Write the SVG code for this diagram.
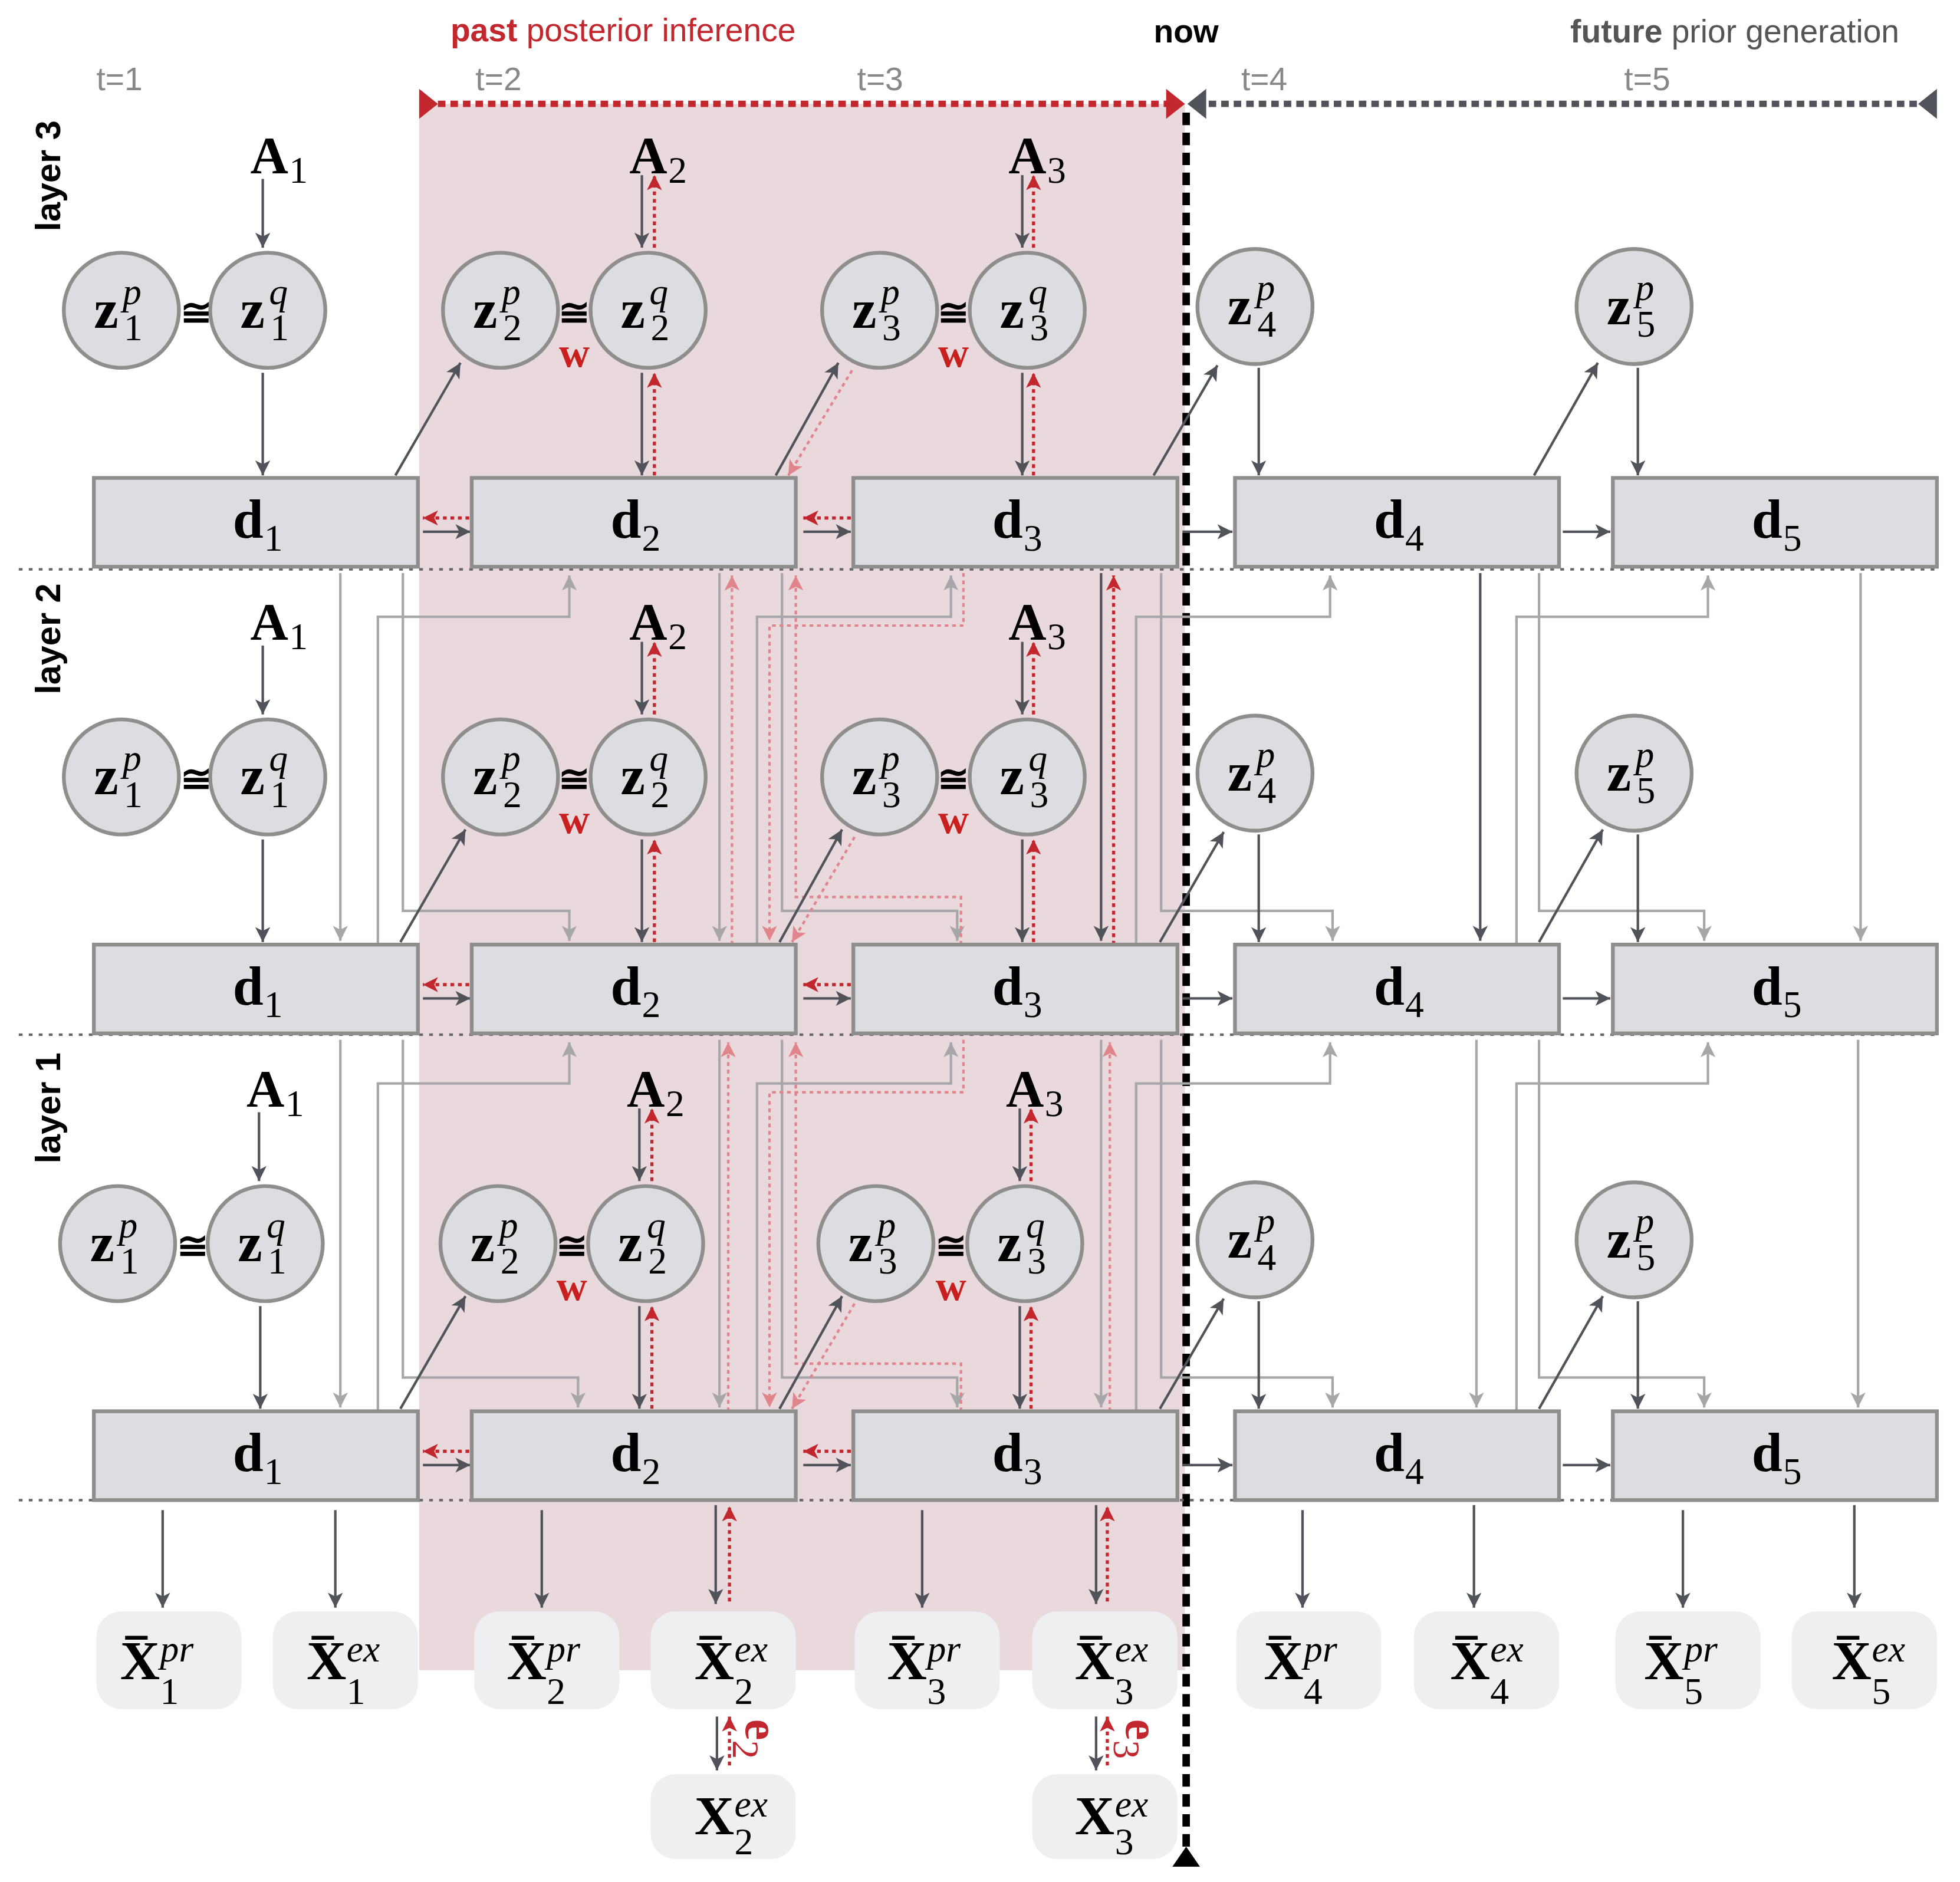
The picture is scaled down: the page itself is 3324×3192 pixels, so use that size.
<svg xmlns="http://www.w3.org/2000/svg" width="3324" height="3192" viewBox="0 0 3324 3192">
<style>
.zb{font:bold 44px 'Liberation Serif',serif}
.sup{font:italic 30px 'Liberation Serif',serif}
.sub{font:30px 'Liberation Serif',serif}
.cg{font:bold 30px 'Liberation Serif',serif;text-anchor:middle}
.w{font:bold 34px 'Liberation Serif',serif;fill:#c8201e;text-anchor:middle}
.A{font:bold 42px 'Liberation Serif',serif}
.circ{fill:#dcdde0;stroke:#8e8e8e;stroke-width:3}
.box{fill:#dcdde0;stroke:#8e8e8e;stroke-width:3}
.ob{fill:#eeeff1}
.dk{stroke:#50545a;stroke-width:2;fill:none;marker-end:url(#ad)}
.lt{stroke:#a7a7aa;stroke-width:2;fill:none;marker-end:url(#al)}
.rd{stroke:#c1272d;stroke-width:2.5;stroke-dasharray:3 3;fill:none;marker-end:url(#ar)}
.pk{stroke:#e0858c;stroke-width:2;stroke-dasharray:3 3;fill:none;marker-end:url(#ap)}
.sep{stroke:#666;stroke-width:2;stroke-dasharray:3 5}
.tl{font:26px 'Liberation Sans Narrow','Liberation Sans',sans-serif;fill:#888}
.lay{font:bold 28px 'Liberation Sans',sans-serif;fill:#000}
</style>
<defs>
<marker id="ad" markerUnits="userSpaceOnUse" markerWidth="12" markerHeight="14" refX="12" refY="6" orient="auto"><path d="M0,0L12,6L0,12L3,6z" fill="#50545a"/></marker>
<marker id="al" markerUnits="userSpaceOnUse" markerWidth="12" markerHeight="14" refX="12" refY="6" orient="auto"><path d="M0,0L12,6L0,12L3,6z" fill="#a7a7aa"/></marker>
<marker id="ar" markerUnits="userSpaceOnUse" markerWidth="12" markerHeight="14" refX="12" refY="6" orient="auto"><path d="M0,0L12,6L0,12L3,6z" fill="#c1272d"/></marker>
<marker id="ap" markerUnits="userSpaceOnUse" markerWidth="12" markerHeight="14" refX="12" refY="6" orient="auto"><path d="M0,0L12,6L0,12L3,6z" fill="#e0858c"/></marker>
</defs>
<rect width="3324" height="3192" fill="#fff"/>
<g transform="scale(2.122)">
<rect x="335" y="83" width="612" height="1252" fill="#ead9dc"/>
<g id="header">
<text x="360" y="33" style="font:26px 'Liberation Sans Narrow','Liberation Sans',sans-serif" fill="#c1272d"><tspan font-weight="bold">past</tspan> posterior inference</text>
<text x="922" y="34" style="font:bold 26px 'Liberation Sans Narrow','Liberation Sans',sans-serif" fill="#000">now</text>
<text x="1255" y="34" style="font:26px 'Liberation Sans Narrow','Liberation Sans',sans-serif" fill="#555"><tspan font-weight="bold">future</tspan> prior generation</text>
<text class="tl" x="77" y="72">t=1</text><text class="tl" x="380" y="72">t=2</text><text class="tl" x="685" y="72">t=3</text><text class="tl" x="992" y="72">t=4</text><text class="tl" x="1298" y="72">t=5</text>
<text class="lay" transform="translate(48,185) rotate(-90)">layer 3</text>
<text class="lay" transform="translate(48,555) rotate(-90)">layer 2</text>
<text class="lay" transform="translate(48,930) rotate(-90)">layer 1</text>
<line x1="340" y1="83" x2="938" y2="83" stroke="#c1272d" stroke-width="5" stroke-dasharray="6 4"/>
<polygon points="335,71 350,83 335,95" fill="#c1272d"/><polygon points="932,71 947,83 932,95" fill="#c1272d"/>
<line x1="956" y1="83" x2="1540" y2="83" stroke="#50545a" stroke-width="5" stroke-dasharray="6 4"/>
<polygon points="964,71 949,83 964,95" fill="#50545a"/><polygon points="1548,71 1533,83 1548,95" fill="#50545a"/>
<line x1="948" y1="90" x2="948" y2="1478" stroke="#000" stroke-width="6" stroke-dasharray="10 6"/>
<polygon points="937,1492 959,1492 948,1476" fill="#000"/>
<line class="sep" x1="15" y1="455" x2="1550" y2="455"/><line class="sep" x1="15" y1="827" x2="1550" y2="827"/><line class="sep" x1="15" y1="1199" x2="1550" y2="1199"/>
</g>
<g id="connectors">
<g>
<path class="lt" d="M272,458V752"/><path class="lt" d="M322,458V728H455V752"/><path class="lt" d="M302,755V493H455V460"/>
<path class="lt" d="M575,458V752"/><path class="lt" d="M605,755V493H760V460"/><path class="lt" d="M625,458V728H765V752"/>
<path class="lt" d="M908,755V493H1063V460"/><path class="lt" d="M928,458V728H1065V752"/>
<path class="lt" d="M1212,755V493H1365V460"/><path class="lt" d="M1230,458V728H1362V752"/><path class="lt" d="M1487,458V752"/>
<path class="dk" d="M880,458V752"/><path class="dk" d="M1183,458V752"/><path class="rd" d="M890,755V460"/>
<path class="pk" d="M585,755V460"/><path class="pk" d="M768,755V717H636V460"/><path class="pk" d="M770,458V500H615V752"/>
</g>
<g transform="translate(0,373)">
<path class="lt" d="M272,458V752"/><path class="lt" d="M322,458V728H462V752"/><path class="lt" d="M302,755V493H455V460"/>
<path class="lt" d="M575,458V752"/><path class="lt" d="M605,755V493H760V460"/><path class="lt" d="M625,458V728H765V752"/>
<path class="lt" d="M908,755V493H1063V460"/><path class="lt" d="M928,458V728H1065V752"/>
<path class="lt" d="M1212,755V493H1365V460"/><path class="lt" d="M1230,458V728H1362V752"/><path class="lt" d="M1485,458V752"/>
<path class="lt" d="M880,458V752"/><path class="lt" d="M1180,458V752"/><path class="pk" d="M887,755V460"/>
<path class="pk" d="M582,755V460"/><path class="pk" d="M768,755V717H636V460"/><path class="pk" d="M770,458V500H615V752"/>
</g>
<path class="dk" d="M130,1207V1285"/><path class="dk" d="M268,1207V1285"/><path class="dk" d="M433,1207V1285"/><path class="dk" d="M572,1203V1282"/><path class="dk" d="M737,1207V1285"/><path class="dk" d="M876,1203V1282"/><path class="dk" d="M1041,1207V1285"/><path class="dk" d="M1178,1203V1285"/><path class="dk" d="M1345,1207V1285"/><path class="dk" d="M1482,1203V1285"/>
<path class="rd" d="M583,1280V1204"/><path class="rd" d="M885,1280V1204"/>
<path class="dk" d="M573,1372V1415"/><path class="rd" d="M583,1411V1372"/>
<path class="dk" d="M876,1372V1415"/><path class="rd" d="M885,1411V1372"/>
<text transform="translate(596,1374) rotate(90)" style="font:bold 38px 'Liberation Serif',serif" fill="#c1272d">e<tspan style="font:30px 'Liberation Serif',serif" dy="10">2</tspan></text>
<text transform="translate(900,1374) rotate(90)" style="font:bold 38px 'Liberation Serif',serif" fill="#c1272d">e<tspan style="font:30px 'Liberation Serif',serif" dy="10">3</tspan></text>
</g>
<g id="layer3">
<g id="L3-edges">
<path class="dk" d="M210,143V198"/><path class="dk" d="M513,140V198"/><path class="rd" d="M523,198V140"/><path class="dk" d="M817,140V198"/><path class="rd" d="M826,198V140"/>
<path class="dk" d="M210,298V380"/><path class="dk" d="M513,298V380"/><path class="rd" d="M523,380V298"/><path class="dk" d="M817,298V380"/><path class="rd" d="M826,380V298"/><path class="dk" d="M1006,294V380"/><path class="dk" d="M1309,294V380"/>
<path class="dk" d="M316,380L368,290"/><path class="dk" d="M620,380L670,290"/><path class="pk" d="M681,296L630,380"/><path class="dk" d="M922,380L973,292"/><path class="dk" d="M1226,380L1277,290"/>
<path class="dk" d="M338,425H376"/><path class="rd" d="M375,414H338"/><path class="dk" d="M642,425H680"/><path class="rd" d="M680,414H642"/><path class="dk" d="M945,425H985"/><path class="dk" d="M1249,425H1287"/>
</g>
<g id="L3-A1"><text class="A" x="200" y="138">A</text><text class="sub" x="231" y="146">1</text></g>
<g id="L3-A2"><text class="A" x="503" y="138">A</text><text class="sub" x="534" y="146">2</text></g>
<g id="L3-A3"><text class="A" x="806" y="138">A</text><text class="sub" x="837" y="146">3</text></g>
<g id="L3-z1p"><circle class="circ" cx="97" cy="248" r="46"/><text class="zb" x="75" y="262">z</text><text class="sup" x="98" y="243">p</text><text class="sub" x="99" y="272">1</text></g>
<g id="L3-z1q"><circle class="circ" cx="214" cy="248" r="46"/><text class="zb" x="192" y="262">z</text><text class="sup" x="215" y="243">q</text><text class="sub" x="216" y="272">1</text></g>
<text class="cg" x="157" y="260">≅</text>
<g id="L3-z2p"><circle class="circ" cx="400" cy="248" r="46"/><text class="zb" x="378" y="262">z</text><text class="sup" x="401" y="243">p</text><text class="sub" x="402" y="272">2</text></g>
<g id="L3-z2q"><circle class="circ" cx="518" cy="248" r="46"/><text class="zb" x="496" y="262">z</text><text class="sup" x="519" y="243">q</text><text class="sub" x="520" y="272">2</text></g>
<text class="cg" x="459" y="260">≅</text><text class="w" x="459" y="293">w</text>
<g id="L3-z3p"><circle class="circ" cx="703" cy="248" r="46"/><text class="zb" x="681" y="262">z</text><text class="sup" x="704" y="243">p</text><text class="sub" x="705" y="272">3</text></g>
<g id="L3-z3q"><circle class="circ" cx="821" cy="248" r="46"/><text class="zb" x="799" y="262">z</text><text class="sup" x="822" y="243">q</text><text class="sub" x="823" y="272">3</text></g>
<text class="cg" x="762" y="260">≅</text><text class="w" x="762" y="293">w</text>
<g id="L3-z4p"><circle class="circ" cx="1003" cy="245" r="46"/><text class="zb" x="981" y="259">z</text><text class="sup" x="1004" y="240">p</text><text class="sub" x="1005" y="269">4</text></g>
<g id="L3-z5p"><circle class="circ" cx="1306" cy="245" r="46"/><text class="zb" x="1284" y="259">z</text><text class="sup" x="1307" y="240">p</text><text class="sub" x="1308" y="269">5</text></g>
<g id="L3-d1"><rect class="box" x="75" y="382" width="259" height="71"/><text class="zb" x="186" y="430">d</text><text class="sub" x="211" y="440">1</text></g>
<g id="L3-d2"><rect class="box" x="377" y="382" width="259" height="71"/><text class="zb" x="488" y="430">d</text><text class="sub" x="513" y="440">2</text></g>
<g id="L3-d3"><rect class="box" x="682" y="382" width="259" height="71"/><text class="zb" x="793" y="430">d</text><text class="sub" x="818" y="440">3</text></g>
<g id="L3-d4"><rect class="box" x="987" y="382" width="259" height="71"/><text class="zb" x="1098" y="430">d</text><text class="sub" x="1123" y="440">4</text></g>
<g id="L3-d5"><rect class="box" x="1289" y="382" width="259" height="71"/><text class="zb" x="1400" y="430">d</text><text class="sub" x="1425" y="440">5</text></g>
</g>
<g id="layer2" transform="translate(0,373)">
<g id="L2-edges">
<path class="dk" d="M210,143V198"/><path class="dk" d="M513,140V198"/><path class="rd" d="M523,198V140"/><path class="dk" d="M817,140V198"/><path class="rd" d="M826,198V140"/>
<path class="dk" d="M210,298V380"/><path class="dk" d="M513,298V380"/><path class="rd" d="M523,380V298"/><path class="dk" d="M817,298V380"/><path class="rd" d="M826,380V298"/><path class="dk" d="M1006,294V380"/><path class="dk" d="M1309,294V380"/>
<path class="dk" d="M320,380L372,290"/><path class="dk" d="M623,380L673,290"/><path class="pk" d="M683,296L633,380"/><path class="dk" d="M927,380L978,292"/><path class="dk" d="M1230,380L1281,290"/>
<path class="dk" d="M338,425H376"/><path class="rd" d="M375,414H338"/><path class="dk" d="M642,425H680"/><path class="rd" d="M680,414H642"/><path class="dk" d="M945,425H985"/><path class="dk" d="M1249,425H1287"/>
</g>
<g id="L2-A1"><text class="A" x="200" y="138">A</text><text class="sub" x="231" y="146">1</text></g>
<g id="L2-A2"><text class="A" x="503" y="138">A</text><text class="sub" x="534" y="146">2</text></g>
<g id="L2-A3"><text class="A" x="806" y="138">A</text><text class="sub" x="837" y="146">3</text></g>
<g id="L2-z1p"><circle class="circ" cx="97" cy="248" r="46"/><text class="zb" x="75" y="262">z</text><text class="sup" x="98" y="243">p</text><text class="sub" x="99" y="272">1</text></g>
<g id="L2-z1q"><circle class="circ" cx="214" cy="248" r="46"/><text class="zb" x="192" y="262">z</text><text class="sup" x="215" y="243">q</text><text class="sub" x="216" y="272">1</text></g>
<text class="cg" x="157" y="260">≅</text>
<g id="L2-z2p"><circle class="circ" cx="400" cy="248" r="46"/><text class="zb" x="378" y="262">z</text><text class="sup" x="401" y="243">p</text><text class="sub" x="402" y="272">2</text></g>
<g id="L2-z2q"><circle class="circ" cx="518" cy="248" r="46"/><text class="zb" x="496" y="262">z</text><text class="sup" x="519" y="243">q</text><text class="sub" x="520" y="272">2</text></g>
<text class="cg" x="459" y="260">≅</text><text class="w" x="459" y="293">w</text>
<g id="L2-z3p"><circle class="circ" cx="703" cy="248" r="46"/><text class="zb" x="681" y="262">z</text><text class="sup" x="704" y="243">p</text><text class="sub" x="705" y="272">3</text></g>
<g id="L2-z3q"><circle class="circ" cx="821" cy="248" r="46"/><text class="zb" x="799" y="262">z</text><text class="sup" x="822" y="243">q</text><text class="sub" x="823" y="272">3</text></g>
<text class="cg" x="762" y="260">≅</text><text class="w" x="762" y="293">w</text>
<g id="L2-z4p"><circle class="circ" cx="1003" cy="245" r="46"/><text class="zb" x="981" y="259">z</text><text class="sup" x="1004" y="240">p</text><text class="sub" x="1005" y="269">4</text></g>
<g id="L2-z5p"><circle class="circ" cx="1306" cy="245" r="46"/><text class="zb" x="1284" y="259">z</text><text class="sup" x="1307" y="240">p</text><text class="sub" x="1308" y="269">5</text></g>
<g id="L2-d1"><rect class="box" x="75" y="382" width="259" height="71"/><text class="zb" x="186" y="430">d</text><text class="sub" x="211" y="440">1</text></g>
<g id="L2-d2"><rect class="box" x="377" y="382" width="259" height="71"/><text class="zb" x="488" y="430">d</text><text class="sub" x="513" y="440">2</text></g>
<g id="L2-d3"><rect class="box" x="682" y="382" width="259" height="71"/><text class="zb" x="793" y="430">d</text><text class="sub" x="818" y="440">3</text></g>
<g id="L2-d4"><rect class="box" x="987" y="382" width="259" height="71"/><text class="zb" x="1098" y="430">d</text><text class="sub" x="1123" y="440">4</text></g>
<g id="L2-d5"><rect class="box" x="1289" y="382" width="259" height="71"/><text class="zb" x="1400" y="430">d</text><text class="sub" x="1425" y="440">5</text></g>
</g>
<g id="layer1" transform="translate(0,746)">
<g id="L1-edges">
<path class="dk" d="M207,143V198"/><path class="dk" d="M511,140V198"/><path class="rd" d="M521,198V140"/><path class="dk" d="M815,140V198"/><path class="rd" d="M824,198V140"/>
<path class="dk" d="M208,298V380"/><path class="dk" d="M511,298V380"/><path class="rd" d="M521,380V298"/><path class="dk" d="M815,298V380"/><path class="rd" d="M824,380V298"/><path class="dk" d="M1006,294V380"/><path class="dk" d="M1309,294V380"/>
<path class="dk" d="M320,380L372,290"/><path class="dk" d="M623,380L673,290"/><path class="pk" d="M683,296L633,380"/><path class="dk" d="M927,380L978,292"/><path class="dk" d="M1230,380L1281,290"/>
<path class="dk" d="M338,425H376"/><path class="rd" d="M375,414H338"/><path class="dk" d="M642,425H680"/><path class="rd" d="M680,414H642"/><path class="dk" d="M945,425H985"/><path class="dk" d="M1249,425H1287"/>
</g>
<g id="L1-A1"><text class="A" x="197" y="138">A</text><text class="sub" x="228" y="146">1</text></g>
<g id="L1-A2"><text class="A" x="501" y="138">A</text><text class="sub" x="532" y="146">2</text></g>
<g id="L1-A3"><text class="A" x="804" y="138">A</text><text class="sub" x="835" y="146">3</text></g>
<g id="L1-z1p"><circle class="circ" cx="94" cy="248" r="46"/><text class="zb" x="72" y="262">z</text><text class="sup" x="95" y="243">p</text><text class="sub" x="96" y="272">1</text></g>
<g id="L1-z1q"><circle class="circ" cx="212" cy="248" r="46"/><text class="zb" x="190" y="262">z</text><text class="sup" x="213" y="243">q</text><text class="sub" x="214" y="272">1</text></g>
<text class="cg" x="154" y="260">≅</text>
<g id="L1-z2p"><circle class="circ" cx="398" cy="248" r="46"/><text class="zb" x="376" y="262">z</text><text class="sup" x="399" y="243">p</text><text class="sub" x="400" y="272">2</text></g>
<g id="L1-z2q"><circle class="circ" cx="516" cy="248" r="46"/><text class="zb" x="494" y="262">z</text><text class="sup" x="517" y="243">q</text><text class="sub" x="518" y="272">2</text></g>
<text class="cg" x="457" y="260">≅</text><text class="w" x="457" y="293">w</text>
<g id="L1-z3p"><circle class="circ" cx="700" cy="248" r="46"/><text class="zb" x="678" y="262">z</text><text class="sup" x="701" y="243">p</text><text class="sub" x="702" y="272">3</text></g>
<g id="L1-z3q"><circle class="circ" cx="819" cy="248" r="46"/><text class="zb" x="797" y="262">z</text><text class="sup" x="820" y="243">q</text><text class="sub" x="821" y="272">3</text></g>
<text class="cg" x="760" y="260">≅</text><text class="w" x="760" y="293">w</text>
<g id="L1-z4p"><circle class="circ" cx="1003" cy="245" r="46"/><text class="zb" x="981" y="259">z</text><text class="sup" x="1004" y="240">p</text><text class="sub" x="1005" y="269">4</text></g>
<g id="L1-z5p"><circle class="circ" cx="1306" cy="245" r="46"/><text class="zb" x="1284" y="259">z</text><text class="sup" x="1307" y="240">p</text><text class="sub" x="1308" y="269">5</text></g>
<g id="L1-d1"><rect class="box" x="75" y="382" width="259" height="71"/><text class="zb" x="186" y="430">d</text><text class="sub" x="211" y="440">1</text></g>
<g id="L1-d2"><rect class="box" x="377" y="382" width="259" height="71"/><text class="zb" x="488" y="430">d</text><text class="sub" x="513" y="440">2</text></g>
<g id="L1-d3"><rect class="box" x="682" y="382" width="259" height="71"/><text class="zb" x="793" y="430">d</text><text class="sub" x="818" y="440">3</text></g>
<g id="L1-d4"><rect class="box" x="987" y="382" width="259" height="71"/><text class="zb" x="1098" y="430">d</text><text class="sub" x="1123" y="440">4</text></g>
<g id="L1-d5"><rect class="box" x="1289" y="382" width="259" height="71"/><text class="zb" x="1400" y="430">d</text><text class="sub" x="1425" y="440">5</text></g>
</g>
<g id="outputs">
<g id="Xpr1"><rect class="ob" x="77" y="1288" width="116" height="78" rx="20"/><text class="zb" x="96" y="1342">X</text><line x1="100" y1="1309" x2="118" y2="1309" stroke="#000" stroke-width="3"/><text class="sup" x="128" y="1328">pr</text><text class="sub" x="128" y="1362">1</text></g>
<g id="Xex1"><rect class="ob" x="218" y="1288" width="116" height="78" rx="20"/><text class="zb" x="245" y="1342">X</text><line x1="249" y1="1309" x2="267" y2="1309" stroke="#000" stroke-width="3"/><text class="sup" x="277" y="1328">ex</text><text class="sub" x="277" y="1362">1</text></g>
<g id="Xpr2"><rect class="ob" x="379" y="1288" width="116" height="78" rx="20"/><text class="zb" x="405" y="1342">X</text><line x1="409" y1="1309" x2="427" y2="1309" stroke="#000" stroke-width="3"/><text class="sup" x="437" y="1328">pr</text><text class="sub" x="437" y="1362">2</text></g>
<g id="Xex2"><rect class="ob" x="520" y="1288" width="116" height="78" rx="20"/><text class="zb" x="555" y="1342">X</text><line x1="559" y1="1309" x2="577" y2="1309" stroke="#000" stroke-width="3"/><text class="sup" x="587" y="1328">ex</text><text class="sub" x="587" y="1362">2</text></g>
<g id="Xpr3"><rect class="ob" x="683" y="1288" width="116" height="78" rx="20"/><text class="zb" x="709" y="1342">X</text><line x1="713" y1="1309" x2="731" y2="1309" stroke="#000" stroke-width="3"/><text class="sup" x="741" y="1328">pr</text><text class="sub" x="741" y="1362">3</text></g>
<g id="Xex3"><rect class="ob" x="825" y="1288" width="116" height="78" rx="20"/><text class="zb" x="859" y="1342">X</text><line x1="863" y1="1309" x2="881" y2="1309" stroke="#000" stroke-width="3"/><text class="sup" x="891" y="1328">ex</text><text class="sub" x="891" y="1362">3</text></g>
<g id="Xpr4"><rect class="ob" x="988" y="1288" width="116" height="78" rx="20"/><text class="zb" x="1010" y="1342">X</text><line x1="1014" y1="1309" x2="1032" y2="1309" stroke="#000" stroke-width="3"/><text class="sup" x="1042" y="1328">pr</text><text class="sub" x="1042" y="1362">4</text></g>
<g id="Xex4"><rect class="ob" x="1130" y="1288" width="116" height="78" rx="20"/><text class="zb" x="1159" y="1342">X</text><line x1="1163" y1="1309" x2="1181" y2="1309" stroke="#000" stroke-width="3"/><text class="sup" x="1191" y="1328">ex</text><text class="sub" x="1191" y="1362">4</text></g>
<g id="Xpr5"><rect class="ob" x="1291" y="1288" width="116" height="78" rx="20"/><text class="zb" x="1314" y="1342">X</text><line x1="1318" y1="1309" x2="1336" y2="1309" stroke="#000" stroke-width="3"/><text class="sup" x="1346" y="1328">pr</text><text class="sub" x="1346" y="1362">5</text></g>
<g id="Xex5"><rect class="ob" x="1432" y="1288" width="116" height="78" rx="20"/><text class="zb" x="1464" y="1342">X</text><line x1="1468" y1="1309" x2="1486" y2="1309" stroke="#000" stroke-width="3"/><text class="sup" x="1496" y="1328">ex</text><text class="sub" x="1496" y="1362">5</text></g>
<g id="Xobs2"><rect class="ob" x="520" y="1418" width="116" height="68" rx="20"/><text class="zb" x="555" y="1466">X</text><text class="sup" x="587" y="1452">ex</text><text class="sub" x="587" y="1482">2</text></g>
<g id="Xobs3"><rect class="ob" x="825" y="1418" width="116" height="68" rx="20"/><text class="zb" x="859" y="1466">X</text><text class="sup" x="891" y="1452">ex</text><text class="sub" x="891" y="1482">3</text></g>
</g>
</g>
</svg>
